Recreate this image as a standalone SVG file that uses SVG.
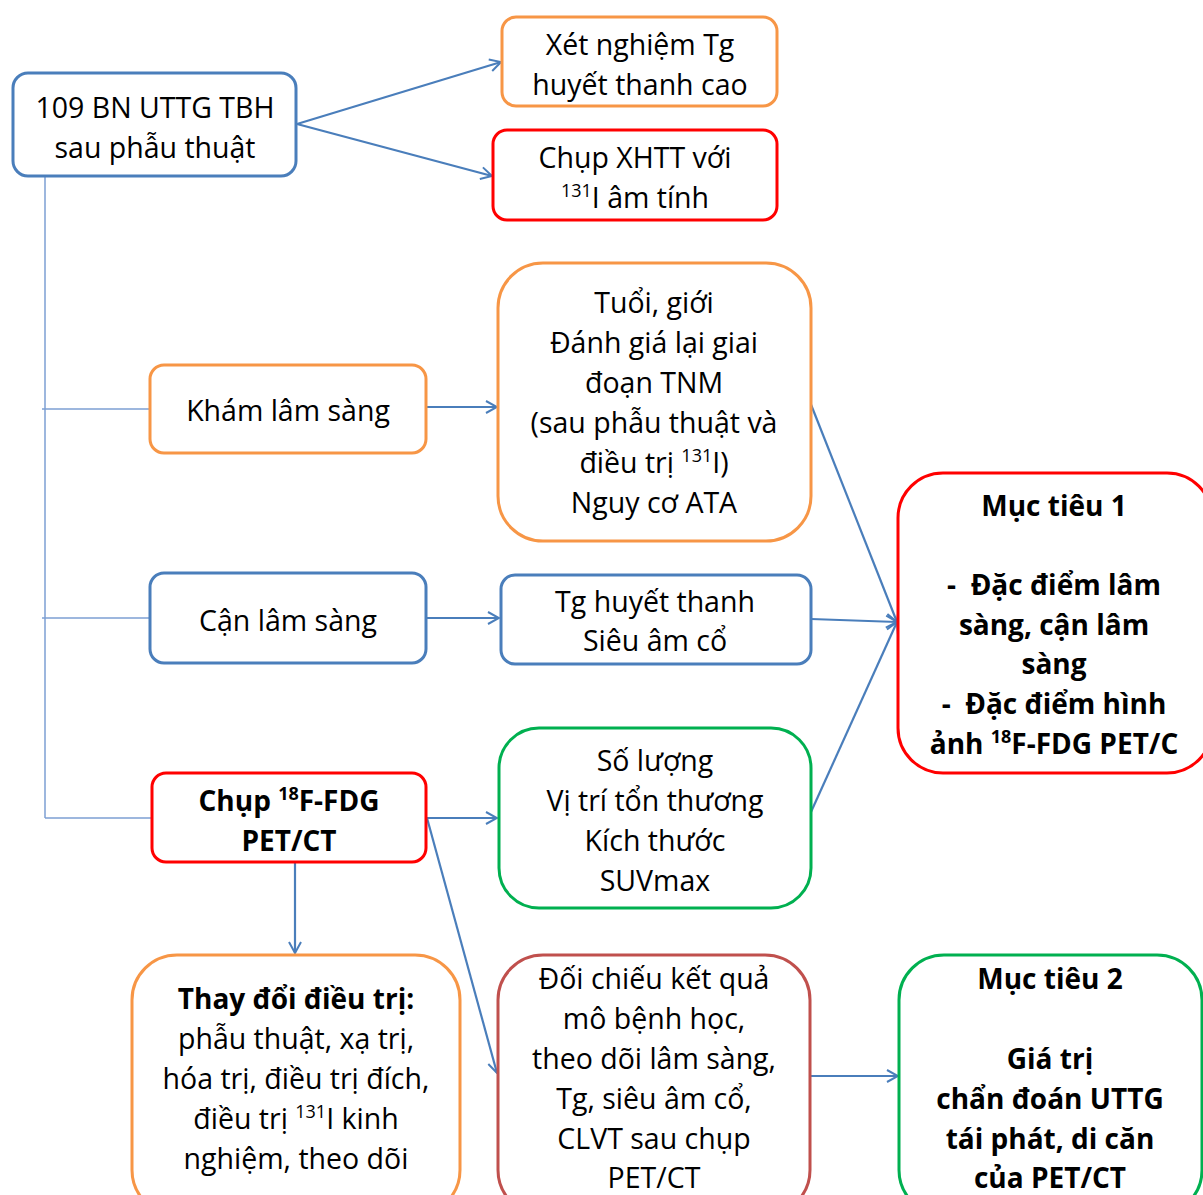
<svg xmlns="http://www.w3.org/2000/svg" width="1203" height="1195" viewBox="0 0 1203 1195">
<style>
.bx{fill:#fff;stroke-width:3}
.blue{stroke:#4A7EBB}.orange{stroke:#F79646}.red{stroke:#FF0000}.green{stroke:#00B050}.brown{stroke:#C0504D}
text{font-family:"Open Sans","Noto Sans",sans-serif;font-size:28.5px;fill:#000;text-anchor:middle}
.bd{font-weight:bold;font-size:28px}
.sup{font-size:18px}
.c{stroke:#4A7EBB;stroke-width:2.2;fill:none;marker-end:url(#a)}
.tree{stroke:#7EA0D3;stroke-width:1.5;fill:none}
</style>
<defs>
<marker id="a" viewBox="0 0 14 14" markerWidth="14" markerHeight="14" refX="13" refY="7" orient="auto" markerUnits="userSpaceOnUse">
<path d="M2,1 L13,7 L2,13" fill="none" stroke="#4A7EBB" stroke-width="2"/>
</marker>
</defs>
<rect width="1203" height="1195" fill="#fff"/>
<g id="connectors">
<path class="tree" d="M45,176 V818 M42,409 H150 M42,618 H150 M45,818 H152"/>
<path class="c" d="M297,124 L501,62"/>
<path class="c" d="M297,124 L492,176"/>
<path class="c" d="M426,407 H497"/>
<path class="c" d="M424,618 H499"/>
<path class="c" d="M426,818 H497"/>
<path class="c" d="M295,862 V953"/>
<path class="c" d="M427,818 L497,1073"/>
<path class="c" d="M810,402 L897,622"/>
<path class="c" d="M811,619 L897,622"/>
<path class="c" d="M811,812 L897,622"/>
<path class="c" d="M810,1076 L898,1076"/>
</g>
<g id="n-start">
<rect class="bx blue" x="13" y="73" width="283" height="103" rx="15"/>
<text x="155" y="118">109 BN UTTG TBH</text>
<text x="155" y="158">sau phẫu thuật</text>
</g>
<g id="n-xetnghiem">
<rect class="bx orange" x="502" y="17" width="275" height="89" rx="14"/>
<text x="640" y="55">Xét nghiệm Tg</text>
<text x="640" y="95">huyết thanh cao</text>
</g>
<g id="n-xhtt">
<rect class="bx red" x="493" y="130" width="284" height="90" rx="14"/>
<text x="635" y="168">Chụp XHTT với</text>
<text x="635" y="208"><tspan class="sup" dy="-11">131</tspan><tspan dy="11">I âm tính</tspan></text>
</g>
<g id="n-kham">
<rect class="bx orange" x="150" y="365" width="276" height="88" rx="14"/>
<text x="288" y="421">Khám lâm sàng</text>
</g>
<g id="n-tuoi">
<rect class="bx orange" x="498" y="263" width="313" height="278" rx="45"/>
<text x="654" y="313">Tuổi, giới</text>
<text x="654" y="353">Đánh giá lại giai</text>
<text x="654" y="393">đoạn TNM</text>
<text x="654" y="433">(sau phẫu thuật và</text>
<text x="654" y="473">điều trị <tspan class="sup" dy="-11">131</tspan><tspan dy="11">I)</tspan></text>
<text x="654" y="513">Nguy cơ ATA</text>
</g>
<g id="n-can">
<rect class="bx blue" x="150" y="573" width="276" height="90" rx="14"/>
<text x="288" y="631">Cận lâm sàng</text>
</g>
<g id="n-tg">
<rect class="bx blue" x="501" y="575" width="310" height="89" rx="14"/>
<text x="655" y="612">Tg huyết thanh</text>
<text x="655" y="651">Siêu âm cổ</text>
</g>
<g id="n-muctieu1">
<rect class="bx red" x="898" y="473" width="314" height="300" rx="45"/>
<text class="bd" x="1054" y="516">Mục tiêu 1</text>
<text class="bd" x="1054" y="595" xml:space="preserve">-  Đặc điểm lâm</text>
<text class="bd" x="1054" y="635">sàng, cận lâm</text>
<text class="bd" x="1054" y="674">sàng</text>
<text class="bd" x="1054" y="714" xml:space="preserve">-  Đặc điểm hình</text>
<text class="bd" x="1054" y="754">ảnh <tspan class="sup" dy="-11">18</tspan><tspan dy="11">F-FDG PET/C</tspan></text>
</g>
<g id="n-soluong">
<rect class="bx green" x="499" y="728" width="312" height="180" rx="40"/>
<text x="655" y="771">Số lượng</text>
<text x="655" y="811">Vị trí tổn thương</text>
<text x="655" y="851">Kích thước</text>
<text x="655" y="891">SUVmax</text>
</g>
<g id="n-chupfdg">
<rect class="bx red" x="152" y="773" width="274" height="89" rx="14"/>
<text class="bd" x="289" y="811">Chụp <tspan class="sup" dy="-11">18</tspan><tspan dy="11">F-FDG</tspan></text>
<text class="bd" x="289" y="851">PET/CT</text>
</g>
<g id="n-thaydoi">
<rect class="bx orange" x="132" y="955" width="328" height="260" rx="45"/>
<text class="bd" x="296" y="1009">Thay đổi điều trị:</text>
<text x="296" y="1049">phẫu thuật, xạ trị,</text>
<text x="296" y="1089">hóa trị, điều trị đích,</text>
<text x="296" y="1129">điều trị <tspan class="sup" dy="-11">131</tspan><tspan dy="11">I kinh</tspan></text>
<text x="296" y="1169">nghiệm, theo dõi</text>
</g>
<g id="n-doichieu">
<rect class="bx brown" x="498" y="955" width="312" height="260" rx="45"/>
<text x="654" y="989">Đối chiếu kết quả</text>
<text x="654" y="1029">mô bệnh học,</text>
<text x="654" y="1069">theo dõi lâm sàng,</text>
<text x="654" y="1109">Tg, siêu âm cổ,</text>
<text x="654" y="1149">CLVT sau chụp</text>
<text x="654" y="1188">PET/CT</text>
</g>
<g id="n-muctieu2">
<rect class="bx green" x="899" y="955" width="303" height="260" rx="45"/>
<text class="bd" x="1050" y="989">Mục tiêu 2</text>
<text class="bd" x="1050" y="1069">Giá trị</text>
<text class="bd" x="1050" y="1109">chẩn đoán UTTG</text>
<text class="bd" x="1050" y="1149">tái phát, di căn</text>
<text class="bd" x="1050" y="1188">của PET/CT</text>
</g>
</svg>
